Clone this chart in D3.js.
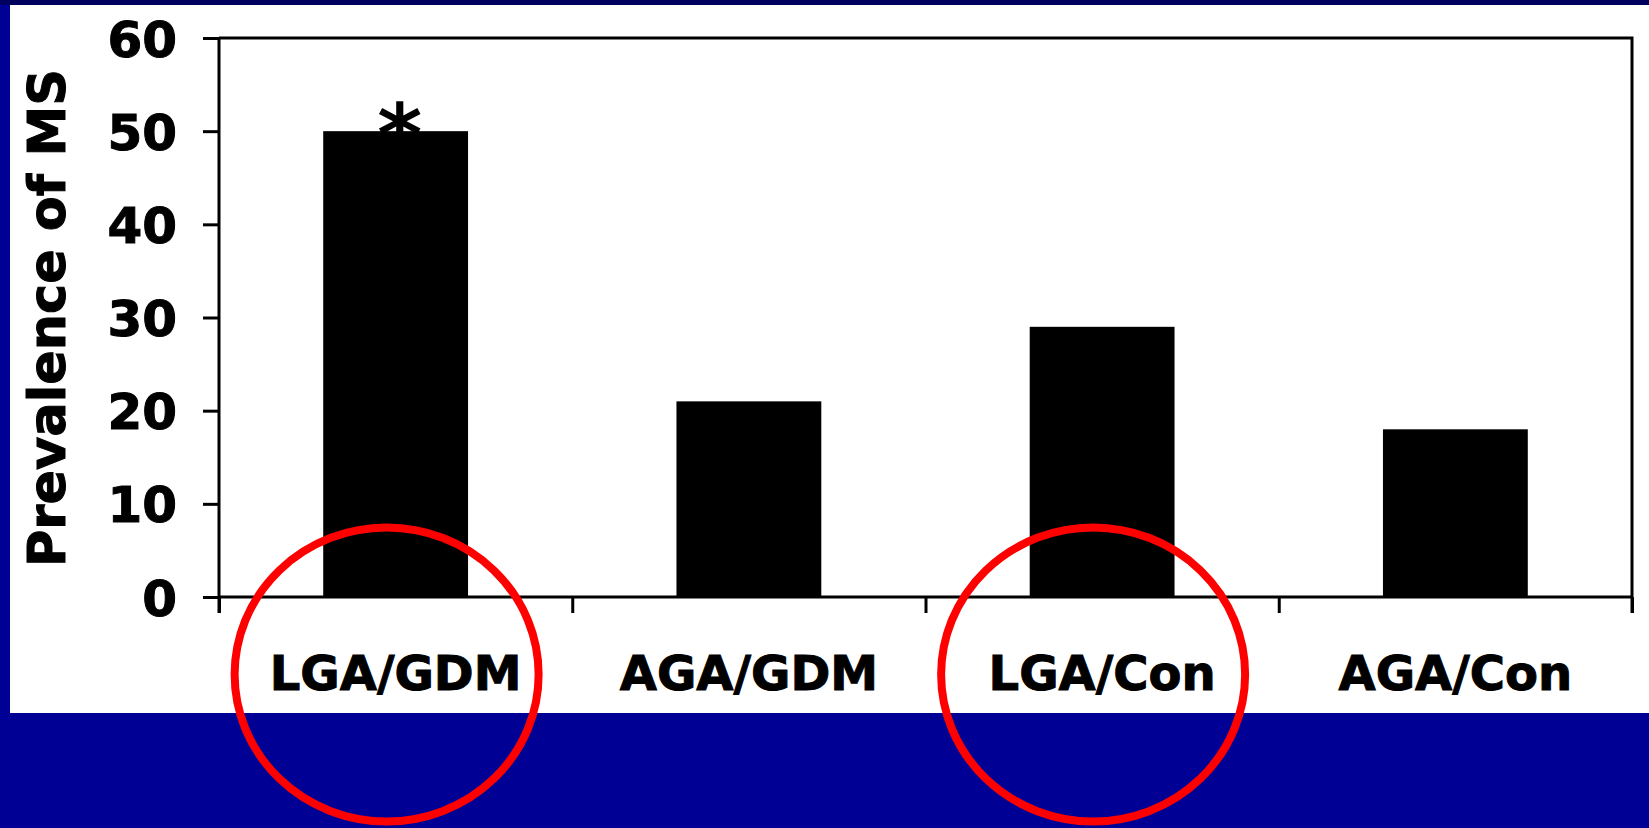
<!DOCTYPE html>
<html>
<head>
<meta charset="utf-8">
<script src="https://cdn.jsdelivr.net/npm/d3@7/dist/d3.min.js"></script>
<style>
  html, body { margin: 0; padding: 0; background: #000094; overflow: hidden; }
  svg { display: block; }
  text { font-family: "DejaVu Sans", Verdana, sans-serif; font-weight: bold; fill: #000; }
</style>
</head>
<body>
<svg id="chart" width="1649" height="828"></svg>
<script>
// Prevalence of metabolic syndrome by birth-weight / maternal group
const categories = ["LGA/GDM", "AGA/GDM", "LGA/Con", "AGA/Con"];
const prevalence = [50, 21, 29, 18];
const significant = ["LGA/GDM"];          // marked with an asterisk
const circled = ["LGA/GDM", "LGA/Con"];   // groups ringed in red
const yTicks = [0, 10, 20, 30, 40, 50, 60];
const yTitle = "Prevalence of MS";

const W = 1649, H = 828;
const svg = d3.select("#chart");

// slide background and white figure panel
svg.append("rect").attr("x", 0).attr("y", 0).attr("width", W).attr("height", H).attr("fill", "#000094");
svg.append("rect").attr("x", 0).attr("y", 0).attr("width", W).attr("height", 5).attr("fill", "#00005e");
svg.append("rect").attr("x", 10).attr("y", 5).attr("width", W - 10).attr("height", 708).attr("fill", "#ffffff");

const plot = { left: 219, right: 1632, top: 38, bottom: 597 };

const x = d3.scaleBand()
  .domain(categories)
  .range([plot.left, plot.right])
  .paddingInner(0.59)
  .paddingOuter(0.295);

const y = d3.scaleLinear()
  .domain([0, 60])
  .range([plot.bottom, plot.top]);

// bars
svg.append("g").selectAll("rect")
  .data(categories)
  .join("rect")
  .attr("x", d => x(d))
  .attr("y", (d, i) => y(prevalence[i]))
  .attr("width", x.bandwidth())
  .attr("height", (d, i) => y(0) - y(prevalence[i]))
  .attr("fill", "#000");

// y axis with outward ticks
const yAxis = svg.append("g")
  .attr("transform", `translate(${plot.left},0)`)
  .call(d3.axisLeft(y).tickValues(yTicks).tickSize(16).tickPadding(26).tickFormat(d3.format("d")));
yAxis.select(".domain").attr("stroke", "#000").attr("stroke-width", 3)
  .attr("d", `M0,${plot.top}V${plot.bottom + 16}`);
yAxis.selectAll(".tick line").attr("stroke", "#000").attr("stroke-width", 3);
yAxis.selectAll(".tick text")
  .attr("font-size", 50)
  .attr("font-family", "DejaVu Sans, Verdana, sans-serif")
  .attr("font-weight", "bold")
  .attr("fill", "#000")
  .attr("stroke", "#000")
  .attr("stroke-width", 1)
  .attr("dy", "0.36em");

// x axis: ticks sit on the band boundaries
const xAxisScale = d3.scaleLinear().domain([0, categories.length]).range([plot.left, plot.right]);
const xAxis = svg.append("g")
  .attr("transform", `translate(0,${plot.bottom})`)
  .call(d3.axisBottom(xAxisScale).tickValues(d3.range(categories.length + 1)).tickSize(16).tickFormat(""));
xAxis.select(".domain").attr("stroke", "#000").attr("stroke-width", 3)
  .attr("d", `M${plot.left},0H${plot.right}`);
xAxis.selectAll(".tick line").attr("stroke", "#000").attr("stroke-width", 3);

// frame: top and right borders
svg.append("path")
  .attr("d", `M${plot.left},${plot.top}H${plot.right}V${plot.bottom + 16}`)
  .attr("fill", "none").attr("stroke", "#000").attr("stroke-width", 3);

// category labels
svg.append("g").selectAll("text")
  .data(categories)
  .join("text")
  .attr("x", d => x(d) + x.bandwidth() / 2)
  .attr("y", 690)
  .attr("text-anchor", "middle")
  .attr("font-size", 48)
  .attr("stroke", "#000")
  .attr("stroke-width", 1)
  .text(d => d);

// y title
svg.append("text")
  .attr("transform", "translate(65,318) rotate(-90)")
  .attr("text-anchor", "middle")
  .attr("font-size", 51)
  .attr("stroke", "#000")
  .attr("stroke-width", 1)
  .text(yTitle);

// significance marker
svg.append("g").selectAll("text")
  .data(categories.filter(d => significant.includes(d)))
  .join("text")
  .attr("x", d => x(d) + x.bandwidth() / 2 + 4)
  .attr("y", d => y(prevalence[categories.indexOf(d)]) + 34)
  .attr("text-anchor", "middle")
  .attr("font-size", 86)
  .text("*");

// red rings around highlighted groups
svg.append("g").selectAll("ellipse")
  .data(categories.filter(d => circled.includes(d)))
  .join("ellipse")
  .attr("cx", d => x(d) + x.bandwidth() / 2 - 9)
  .attr("cy", 674.5)
  .attr("rx", 152)
  .attr("ry", 147)
  .attr("fill", "none")
  .attr("stroke", "#ff0000")
  .attr("stroke-width", 8);
</script>
</body>
</html>
